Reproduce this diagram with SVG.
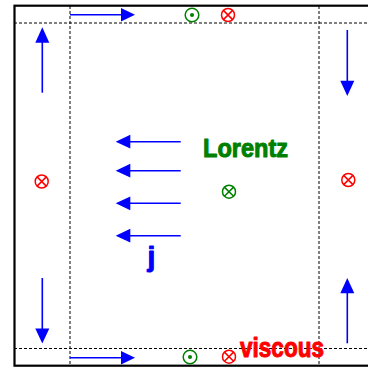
<svg xmlns="http://www.w3.org/2000/svg" width="368" height="367" viewBox="0 0 368 367">
<defs>
<style>
.frame{fill:none;stroke:#000;stroke-width:2.2}
.dash{fill:none;stroke:#000;stroke-width:1;stroke-dasharray:3 2}
.arr{stroke:#0000ff;stroke-width:1.6;fill:none}
.head{fill:#0000ff;stroke:none}
.red{fill:none;stroke:#ff0000;stroke-width:1.5}
.grn{fill:none;stroke:#008000;stroke-width:1.5}
.lbl{font-family:"Liberation Sans",Arial,sans-serif;font-weight:bold;stroke-width:1;stroke-linejoin:round}
</style>
</defs>
<rect width="368" height="367" fill="#fff"/>
<g id="frame">
<rect class="frame" x="14.5" y="5.7" width="400" height="360"/>
<line class="dash" x1="14" y1="23" x2="368" y2="23"/>
<line class="dash" x1="14" y1="348.5" x2="368" y2="348.5"/>
<line class="dash" x1="70" y1="6" x2="70" y2="366"/>
<line class="dash" x1="319" y1="6" x2="319" y2="366"/>
</g>
<g id="connectors">
<line class="arr" x1="70" y1="14.7" x2="122" y2="14.7"/>
<polygon class="head" points="135,14.7 121,8 121,21.4"/>
<line class="arr" x1="70" y1="357.8" x2="122" y2="357.8"/>
<polygon class="head" points="135,357.8 121,351.1 121,364.5"/>
<line class="arr" x1="42.3" y1="92.7" x2="42.3" y2="41"/>
<polygon class="head" points="42.3,27.3 35.3,42.7 49.3,42.7"/>
<line class="arr" x1="42.3" y1="278" x2="42.3" y2="330"/>
<polygon class="head" points="42.3,343.5 35.3,328.5 49.3,328.5"/>
<line class="arr" x1="347.3" y1="30" x2="347.3" y2="82"/>
<polygon class="head" points="347.3,96 340.3,80.7 354.3,80.7"/>
<line class="arr" x1="347.3" y1="343.3" x2="347.3" y2="292"/>
<polygon class="head" points="347.3,278 340.3,293.3 354.3,293.3"/>
<line class="arr" x1="180.7" y1="141.7" x2="129" y2="141.7"/>
<polygon class="head" points="115.7,141.7 130.3,134.8 130.3,148.6"/>
<line class="arr" x1="180.7" y1="170.7" x2="129" y2="170.7"/>
<polygon class="head" points="115.7,170.7 130.3,163.8 130.3,177.6"/>
<line class="arr" x1="180.7" y1="203.3" x2="129" y2="203.3"/>
<polygon class="head" points="115.7,203.3 130.3,196.4 130.3,210.2"/>
<line class="arr" x1="180.7" y1="235.7" x2="129" y2="235.7"/>
<polygon class="head" points="115.7,235.7 130.3,228.8 130.3,242.6"/>
</g>
<g id="top-out">
<circle class="grn" cx="192" cy="15" r="6.8"/>
<circle cx="192" cy="15" r="2" fill="#008000"/>
</g>
<g id="top-in">
<circle class="red" cx="228" cy="15" r="6.5"/>
<path class="red" d="M223.4,10.4 L232.6,19.6 M232.6,10.4 L223.4,19.6"/>
</g>
<g id="bottom-out">
<circle class="grn" cx="190" cy="357" r="6.8"/>
<circle cx="190" cy="357" r="2" fill="#008000"/>
</g>
<g id="bottom-in">
<circle class="red" cx="229" cy="356.7" r="6.5"/>
<path class="red" d="M224.4,352.1 L233.6,361.3 M233.6,352.1 L224.4,361.3"/>
</g>
<g id="left-in">
<circle class="red" cx="41.7" cy="181.5" r="6.5"/>
<path class="red" d="M37.1,176.9 L46.3,186.1 M46.3,176.9 L37.1,186.1"/>
</g>
<g id="right-in">
<circle class="red" cx="348.3" cy="180" r="6.5"/>
<path class="red" d="M343.7,175.4 L352.9,184.6 M352.9,175.4 L343.7,184.6"/>
</g>
<g id="center-in">
<circle class="grn" cx="229" cy="191.7" r="6.5"/>
<path class="grn" d="M224.4,187.1 L233.6,196.3 M233.6,187.1 L224.4,196.3"/>
</g>
<g id="lorentz">
<text class="lbl" x="203" y="156.5" font-size="26" fill="#008000" stroke="#008000" textLength="85" lengthAdjust="spacingAndGlyphs">Lorentz</text>
</g>
<g id="j-label">
<text class="lbl" x="147.5" y="266" font-size="28" fill="#0000ff" stroke="#0000ff">j</text>
</g>
<g id="viscous">
<text class="lbl" x="240" y="357" font-size="28" fill="#ff0000" stroke="#ff0000" textLength="84" lengthAdjust="spacingAndGlyphs">viscous</text>
</g>
</svg>
